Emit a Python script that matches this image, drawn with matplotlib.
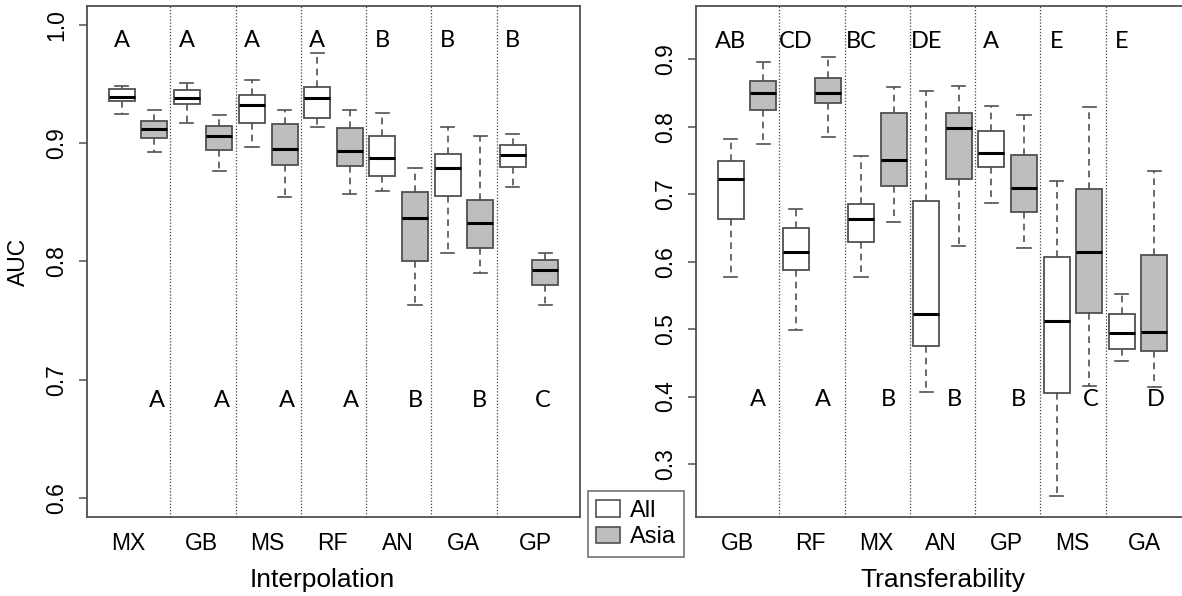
import numpy as np
import matplotlib.pyplot as plt
from matplotlib.patches import Patch

plt.rcParams['font.family'] = ['Liberation Sans', 'DejaVu Sans']

# five-number summaries per method: whisker low, Q1, median, Q3, whisker high
interp_methods = ["MX", "GB", "MS", "RF", "AN", "GA", "GP"]
interp_all = [
    [0.925, 0.9355, 0.9394, 0.9457, 0.9485],
    [0.9174, 0.9329, 0.9386, 0.9448, 0.9513],
    [0.897, 0.9174, 0.9327, 0.9406, 0.9533],
    [0.9134, 0.9216, 0.938, 0.9479, 0.9765],
    [0.8593, 0.8726, 0.8876, 0.906, 0.9255],
    [0.807, 0.855, 0.8788, 0.8907, 0.914],
    [0.8633, 0.8803, 0.8904, 0.8983, 0.908],
]
interp_asia = [
    [0.8924, 0.904, 0.9117, 0.9187, 0.9284],
    [0.8769, 0.8944, 0.9057, 0.9142, 0.9238],
    [0.8542, 0.882, 0.8955, 0.9165, 0.9284],
    [0.857, 0.8808, 0.893, 0.9125, 0.9284],
    [0.763, 0.8004, 0.8367, 0.859, 0.8788],
    [0.7905, 0.8112, 0.8324, 0.8516, 0.9057],
    [0.763, 0.7798, 0.7928, 0.8013, 0.807],
]
interp_top = ["A", "A", "A", "A", "B", "B", "B"]
interp_bottom = ["A", "A", "A", "A", "B", "B", "C"]

transfer_methods = ["GB", "RF", "MX", "AN", "GP", "MS", "GA"]
transfer_all = [
    [0.5768, 0.6632, 0.722, 0.7488, 0.7818],
    [0.4982, 0.5872, 0.6148, 0.6499, 0.6776],
    [0.5772, 0.6296, 0.6628, 0.685, 0.7571],
    [0.4072, 0.475, 0.5224, 0.6895, 0.853],
    [0.687, 0.7399, 0.7606, 0.7937, 0.8308],
    [0.2521, 0.4048, 0.512, 0.6069, 0.7196],
    [0.4527, 0.471, 0.4938, 0.5229, 0.5516],
]
transfer_asia = [
    [0.7744, 0.8244, 0.8505, 0.8683, 0.896],
    [0.7852, 0.8357, 0.8496, 0.8718, 0.903],
    [0.6592, 0.7126, 0.7507, 0.8208, 0.8594],
    [0.6228, 0.7225, 0.7977, 0.8208, 0.8609],
    [0.6202, 0.6732, 0.7087, 0.7586, 0.8179],
    [0.4157, 0.5243, 0.6148, 0.7077, 0.8293],
    [0.4142, 0.4671, 0.4962, 0.6098, 0.7344],
]
transfer_top = ["AB", "CD", "BC", "DE", "A", "E", "E"]
transfer_bottom = ["A", "A", "B", "B", "B", "C", "D"]

EDGE = '#505050'
LETTER_FONT = ['Lato', 'DejaVu Sans']
label_pos = [1.22, 3.45, 5.46, 7.46, 9.46, 11.47, 13.7]


def stats(rows):
    return [dict(whislo=r[0], q1=r[1], med=r[2], q3=r[3], whishi=r[4], fliers=[])
            for r in rows]


def panel(ax, methods, all_rows, asia_rows, top, bottom, bottom_x,
          ylim, yticks, top_y, bottom_y, xlabel):
    n = len(methods)
    pos_all = np.arange(n) * 2 + 1
    pos_asia = pos_all + 1
    for st, pos, fc in [(stats(all_rows), pos_all, 'white'),
                        (stats(asia_rows), pos_asia, '#bebebe')]:
        ax.bxp(st, positions=pos, widths=0.8, capwidths=0.4, patch_artist=True,
               showfliers=False,
               boxprops=dict(facecolor=fc, edgecolor=EDGE, linewidth=1.3),
               medianprops=dict(color='black', linewidth=2.2),
               whiskerprops=dict(color=EDGE, linewidth=1.2, linestyle=(0, (4, 3))),
               capprops=dict(color=EDGE, linewidth=1.2))
    for k in range(1, n):
        ax.axvline(2 * k + 0.5, color='#444444', linestyle=(0, (1, 1.5)), linewidth=0.9)
    for i in range(n):
        ax.text(pos_all[i], top_y, top[i], ha='center', va='center',
                fontsize=17, family=LETTER_FONT)
        ax.text(bottom_x[i], bottom_y, bottom[i], ha='center', va='center',
                fontsize=17, family=LETTER_FONT)
    ax.set_xlim(-0.06, 15.06)
    ax.set_ylim(*ylim)
    ax.set_yticks(yticks)
    ax.set_yticklabels([f'{t:.1f}' for t in yticks])
    ax.set_xticks(label_pos)
    ax.set_xticklabels(methods)
    ax.tick_params(axis='x', length=0, pad=11, labelsize=16.5)
    ax.tick_params(axis='y', length=5.5, width=1.1, color=EDGE, pad=8,
                   labelsize=16.5, labelrotation=90)
    for lab in ax.get_yticklabels():
        lab.set_va('center')
    for s in ax.spines.values():
        s.set_color(EDGE)
        s.set_linewidth(1.3)
    ax.set_xlabel(xlabel, fontsize=19)


fig = plt.figure(figsize=(11.82, 5.96), dpi=100)
ax1 = fig.add_axes([87 / 1182, 1 - 517 / 596, 493 / 1182, 511 / 596])
ax2 = fig.add_axes([696 / 1182, 1 - 517 / 596, 493 / 1182, 511 / 596])

panel(ax1, interp_methods, interp_all, interp_asia, interp_top, interp_bottom,
      [2.07, 4.09, 6.08, 8.04, 10.0, 11.97, 13.93],
      (0.584, 1.016), [0.6, 0.7, 0.8, 0.9, 1.0], 0.9867, 0.6824, 'Interpolation')
ax1.xaxis.set_label_coords(0.477, -0.1)
ax1.set_ylabel('AUC', fontsize=16.5)
ax1.yaxis.set_label_coords(-0.116, 0.5)

panel(ax2, transfer_methods, transfer_all, transfer_asia, transfer_top, transfer_bottom,
      [1.85, 3.84, 5.85, 7.86, 9.82, 12.06, 14.05],
      (0.2214, 0.979), [0.3, 0.4, 0.5, 0.6, 0.7, 0.8, 0.9], 0.926, 0.3949, 'Transferability')
ax2.xaxis.set_label_coords(0.5, -0.1)

handles = [Patch(facecolor='white', edgecolor=EDGE, linewidth=1.2),
           Patch(facecolor='#bebebe', edgecolor=EDGE, linewidth=1.2)]
leg = fig.legend(handles, ['All', 'Asia'], loc='lower left',
                 bbox_to_anchor=(587.7 / 1182, 1 - 556.7 / 596), borderaxespad=0,
                 fontsize=17, fancybox=False, handlelength=1.0, handleheight=0.7,
                 handletextpad=0.45, labelspacing=0.2, borderpad=0.35)
leg.get_frame().set_edgecolor(EDGE)
leg.get_frame().set_linewidth(1.2)

fig.savefig('out.png', dpi=100)
